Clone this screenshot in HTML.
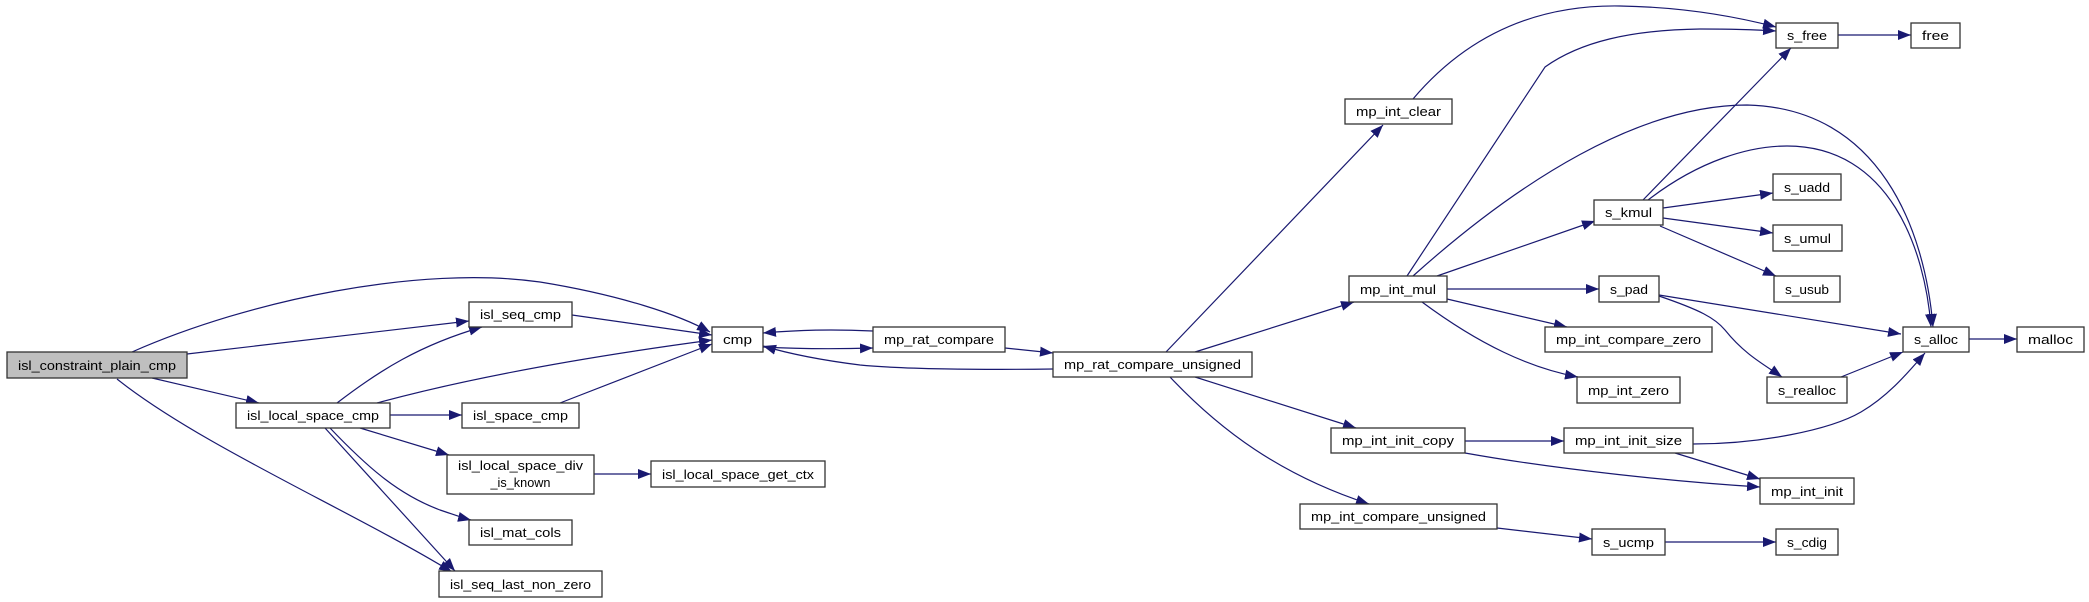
<!DOCTYPE html>
<html><head><meta charset="utf-8"><style>
html,body{margin:0;padding:0;background:#fff;}
svg{display:block;}
text{font-family:"Liberation Sans",sans-serif;font-size:13px;fill:#000;}
.e{fill:none;stroke:#191970;stroke-width:1.2;marker-end:url(#a);}
.n{fill:#fff;stroke:#333;stroke-width:1.3;}
</style></head><body>
<svg width="2089" height="602" viewBox="0 0 2089 602" xmlns="http://www.w3.org/2000/svg">
<defs><marker id="a" markerUnits="userSpaceOnUse" markerWidth="14" markerHeight="11" refX="13" refY="5" orient="auto"><path d="M0,0 L13,5 L0,10 z" fill="#191970"/></marker></defs>

<!-- edges -->
<path class="e" d="M132,352 C250,300 420,265 540,282 C620,295 680,315 710,332"/>
<path class="e" d="M187,354 L469,321"/>
<path class="e" d="M152,378 L259,403"/>
<path class="e" d="M117,379 C200,445 350,510 452,572"/>
<path class="e" d="M572,315 L712,335"/>
<path class="e" d="M337,403 C380,370 420,345 482,327"/>
<path class="e" d="M377,403 C480,375 600,355 712,340"/>
<path class="e" d="M560,403 L712,344"/>
<path class="e" d="M390,415 L462,415"/>
<path class="e" d="M360,428 L449,455"/>
<path class="e" d="M330,428 C370,470 400,495 440,510 C455,515 463,518 471,520"/>
<path class="e" d="M325,428 L455,571"/>
<path class="e" d="M594,474 L651,474"/>
<path class="e" d="M873,331 C830,329 800,330 763,333"/>
<path class="e" d="M763,347 C800,349 840,349 873,348"/>
<path class="e" d="M1005,348 L1053,353"/>
<path class="e" d="M1053,369 C980,370 900,369 860,365 C820,360 790,354 763,346"/>
<path class="e" d="M1166,352 L1383,125"/>
<path class="e" d="M1195,352 L1354,302"/>
<path class="e" d="M1195,377 L1356,428"/>
<path class="e" d="M1170,377 C1220,430 1280,475 1369,504"/>
<path class="e" d="M1413,99 C1480,20 1560,5 1620,6 C1680,7 1730,15 1776,27"/>
<path class="e" d="M1407,276 L1545,67 C1580,42 1630,30 1700,29 C1740,29 1760,30 1776,31"/>
<path class="e" d="M1413,276 C1520,180 1640,105 1747,105 C1880,108 1925,230 1933,327"/>
<path class="e" d="M1648,200 C1700,160 1750,146 1787,146 C1890,146 1925,250 1931,327"/>
<path class="e" d="M1437,276 L1595,221"/>
<path class="e" d="M1447,289 L1599,289"/>
<path class="e" d="M1447,299 L1567,327"/>
<path class="e" d="M1422,302 C1480,345 1530,368 1578,377"/>
<path class="e" d="M1643,200 L1791,48"/>
<path class="e" d="M1663,208 L1773,193"/>
<path class="e" d="M1663,218 L1773,233"/>
<path class="e" d="M1660,226 L1776,276"/>
<path class="e" d="M1659,295 L1901,334"/>
<path class="e" d="M1659,296 C1700,310 1715,318 1725,330 C1745,355 1765,365 1782,377"/>
<path class="e" d="M1841,377 L1903,352"/>
<path class="e" d="M1969,339 L2017,339"/>
<path class="e" d="M1838,35 L1911,35"/>
<path class="e" d="M1465,441 L1564,441"/>
<path class="e" d="M1465,453 C1560,470 1680,482 1760,487"/>
<path class="e" d="M1675,453 L1760,479"/>
<path class="e" d="M1693,444 C1760,444 1830,430 1861,412 C1890,395 1910,370 1925,353"/>
<path class="e" d="M1497,528 L1592,539"/>
<path class="e" d="M1665,542 L1776,542"/>

<!-- nodes -->
<g>
<rect x="7" y="352" width="180" height="26" fill="#bfbfbf" stroke="#333" stroke-width="1.3"/><text x="97" y="370" text-anchor="middle" textLength="158" lengthAdjust="spacingAndGlyphs">isl_constraint_plain_cmp</text>
<rect class="n" x="469" y="302" width="103" height="25"/><text x="520.5" y="319" text-anchor="middle" textLength="81" lengthAdjust="spacingAndGlyphs">isl_seq_cmp</text>
<rect class="n" x="236" y="403" width="154" height="25"/><text x="313" y="420" text-anchor="middle" textLength="132" lengthAdjust="spacingAndGlyphs">isl_local_space_cmp</text>
<rect class="n" x="462" y="403" width="117" height="25"/><text x="520.5" y="420" text-anchor="middle" textLength="95" lengthAdjust="spacingAndGlyphs">isl_space_cmp</text>
<rect class="n" x="447" y="455" width="147" height="39"/><text x="520.5" y="470" text-anchor="middle" textLength="125" lengthAdjust="spacingAndGlyphs">isl_local_space_div</text><text x="520.5" y="487" text-anchor="middle" textLength="60" lengthAdjust="spacingAndGlyphs">_is_known</text>
<rect class="n" x="651" y="461" width="174" height="26"/><text x="738" y="479" text-anchor="middle" textLength="152" lengthAdjust="spacingAndGlyphs">isl_local_space_get_ctx</text>
<rect class="n" x="469" y="520" width="103" height="25"/><text x="520.5" y="537" text-anchor="middle" textLength="81" lengthAdjust="spacingAndGlyphs">isl_mat_cols</text>
<rect class="n" x="439" y="571" width="163" height="26"/><text x="520.5" y="589" text-anchor="middle" textLength="141" lengthAdjust="spacingAndGlyphs">isl_seq_last_non_zero</text>
<rect class="n" x="712" y="327" width="51" height="25"/><text x="737.5" y="344" text-anchor="middle" textLength="29" lengthAdjust="spacingAndGlyphs">cmp</text>
<rect class="n" x="873" y="327" width="132" height="25"/><text x="939" y="344" text-anchor="middle" textLength="110" lengthAdjust="spacingAndGlyphs">mp_rat_compare</text>
<rect class="n" x="1053" y="352" width="199" height="25"/><text x="1152.5" y="369" text-anchor="middle" textLength="177" lengthAdjust="spacingAndGlyphs">mp_rat_compare_unsigned</text>
<rect class="n" x="1345" y="99" width="107" height="25"/><text x="1398.5" y="116" text-anchor="middle" textLength="85" lengthAdjust="spacingAndGlyphs">mp_int_clear</text>
<rect class="n" x="1349" y="276" width="98" height="26"/><text x="1398" y="294" text-anchor="middle" textLength="76" lengthAdjust="spacingAndGlyphs">mp_int_mul</text>
<rect class="n" x="1776" y="23" width="62" height="25"/><text x="1807" y="40" text-anchor="middle" textLength="40" lengthAdjust="spacingAndGlyphs">s_free</text>
<rect class="n" x="1911" y="23" width="49" height="25"/><text x="1935.5" y="40" text-anchor="middle" textLength="27" lengthAdjust="spacingAndGlyphs">free</text>
<rect class="n" x="1594" y="200" width="69" height="25"/><text x="1628.5" y="217" text-anchor="middle" textLength="47" lengthAdjust="spacingAndGlyphs">s_kmul</text>
<rect class="n" x="1773" y="174" width="68" height="26"/><text x="1807" y="192" text-anchor="middle" textLength="46" lengthAdjust="spacingAndGlyphs">s_uadd</text>
<rect class="n" x="1773" y="225" width="69" height="26"/><text x="1807.5" y="243" text-anchor="middle" textLength="47" lengthAdjust="spacingAndGlyphs">s_umul</text>
<rect class="n" x="1774" y="276" width="66" height="26"/><text x="1807" y="294" text-anchor="middle" textLength="44" lengthAdjust="spacingAndGlyphs">s_usub</text>
<rect class="n" x="1599" y="276" width="60" height="26"/><text x="1629" y="294" text-anchor="middle" textLength="38" lengthAdjust="spacingAndGlyphs">s_pad</text>
<rect class="n" x="1545" y="327" width="167" height="25"/><text x="1628.5" y="344" text-anchor="middle" textLength="145" lengthAdjust="spacingAndGlyphs">mp_int_compare_zero</text>
<rect class="n" x="1577" y="377" width="103" height="26"/><text x="1628.5" y="395" text-anchor="middle" textLength="81" lengthAdjust="spacingAndGlyphs">mp_int_zero</text>
<rect class="n" x="1903" y="327" width="66" height="25"/><text x="1936" y="344" text-anchor="middle" textLength="44" lengthAdjust="spacingAndGlyphs">s_alloc</text>
<rect class="n" x="2017" y="327" width="67" height="25"/><text x="2050.5" y="344" text-anchor="middle" textLength="45" lengthAdjust="spacingAndGlyphs">malloc</text>
<rect class="n" x="1767" y="377" width="80" height="26"/><text x="1807" y="395" text-anchor="middle" textLength="58" lengthAdjust="spacingAndGlyphs">s_realloc</text>
<rect class="n" x="1331" y="428" width="134" height="25"/><text x="1398" y="445" text-anchor="middle" textLength="112" lengthAdjust="spacingAndGlyphs">mp_int_init_copy</text>
<rect class="n" x="1564" y="428" width="129" height="25"/><text x="1628.5" y="445" text-anchor="middle" textLength="107" lengthAdjust="spacingAndGlyphs">mp_int_init_size</text>
<rect class="n" x="1760" y="478" width="94" height="26"/><text x="1807" y="496" text-anchor="middle" textLength="72" lengthAdjust="spacingAndGlyphs">mp_int_init</text>
<rect class="n" x="1300" y="504" width="197" height="25"/><text x="1398.5" y="521" text-anchor="middle" textLength="175" lengthAdjust="spacingAndGlyphs">mp_int_compare_unsigned</text>
<rect class="n" x="1592" y="529" width="73" height="26"/><text x="1628.5" y="547" text-anchor="middle" textLength="51" lengthAdjust="spacingAndGlyphs">s_ucmp</text>
<rect class="n" x="1776" y="529" width="62" height="26"/><text x="1807" y="547" text-anchor="middle" textLength="40" lengthAdjust="spacingAndGlyphs">s_cdig</text>
</g>
</svg>
</body></html>
